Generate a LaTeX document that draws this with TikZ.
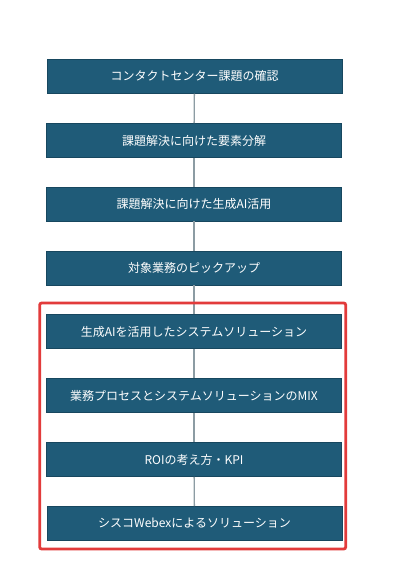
\documentclass[tikz,border=0pt]{standalone}
\usepackage{fontspec}
\setmainfont{Noto Sans CJK JP}
\begin{document}
\begin{tikzpicture}[x=1pt,y=-1pt,
  stepbox/.style={draw=boxedge,fill=boxfill,line width=0.8pt,minimum width=295pt,minimum height=34pt,inner sep=0pt,text=white,font=\fontsize{12}{14}\selectfont},
  link/.style={draw=linkgrey,line width=1.3pt}]
\definecolor{boxfill}{HTML}{1F5B78}
\definecolor{boxedge}{HTML}{17475F}
\definecolor{linkgrey}{HTML}{8C9CA3}
\definecolor{redframe}{HTML}{E23B3B}
\useasboundingbox (0,0) rectangle (400,578);
\fill[white] (0,0) rectangle (400,578);
\node[stepbox] (b1) at (194.5,76.3) {コンタクトセンター課題の確認};
\node[stepbox] (b2) at (194,140.5) {課題解決に向けた要素分解};
\node[stepbox] (b3) at (194,204) {課題解決に向けた生成AI活用};
\node[stepbox] (b4) at (194,268) {対象業務のピックアップ};
\node[stepbox] (b5) at (194,331.5) {生成AIを活用したシステムソリューション};
\node[stepbox] (b6) at (194,395.5) {業務プロセスとシステムソリューションのMIX};
\node[stepbox] (b7) at (194,459.5) {ROIの考え方・KPI};
\node[stepbox] (b8) at (194.5,523.5) {シスコWebexによるソリューション};
\draw[link] (b1) -- (b2);
\draw[link] (b2) -- (b3);
\draw[link] (b3) -- (b4);
\draw[link] (b4) -- (b5);
\draw[link] (b5) -- (b6);
\draw[link] (b6) -- (b7);
\draw[link] (b7) -- (b8);
\node[draw=redframe,line width=2.8pt,rounded corners=2pt,minimum width=306pt,minimum height=246pt,inner sep=0pt] (frame) at (192.7,426) {};
\end{tikzpicture}
\end{document}
